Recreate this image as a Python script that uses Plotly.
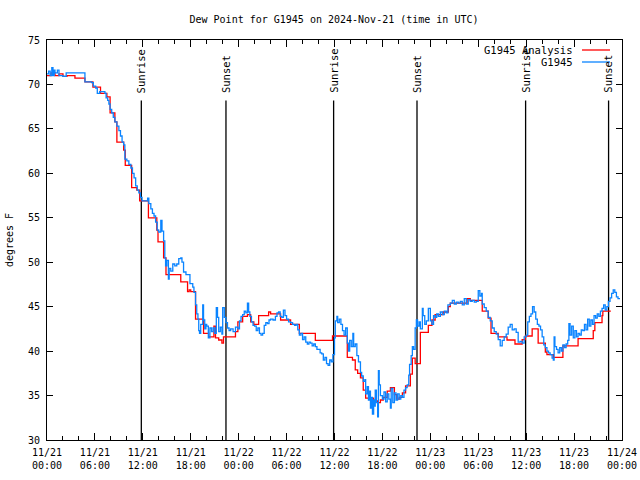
import plotly.graph_objects as go

# ---- data (hours since 2024-11-21 00:00 UTC) ----
blue_hours = [0.0, 0.2, 0.4, 0.6, 0.75, 0.9, 1.0, 1.3, 1.5, 1.6, 2.0, 2.4, 3.0, 4.0, 4.75, 5.5, 5.6, 5.8, 6.1, 6.3,
              6.6, 7.25, 7.4, 7.6, 7.75, 7.9, 8.1, 8.3, 8.5, 8.75, 9.0, 9.2, 9.4, 9.6, 9.75, 10.0, 10.25, 10.5, 10.7, 10.9,
              11.1, 11.3, 11.5, 11.7, 11.9, 12.5, 12.6, 12.75, 13.0, 13.2, 13.4, 13.6, 13.8, 14.0, 14.25, 14.4, 14.6, 14.75, 14.85, 15.0,
              15.2, 15.3, 15.5, 15.75, 16.0, 16.25, 16.5, 16.75, 16.9, 17.1, 17.4, 17.7, 17.9, 18.1, 18.25, 18.4, 18.6, 18.75, 18.9, 19.0,
              19.1, 19.25, 19.5, 19.6, 19.75, 19.9, 20.0, 20.2, 20.4, 20.6, 20.8, 21.0, 21.2, 21.35, 21.5, 21.7, 21.9, 22.0, 22.2, 22.4,
              22.6, 22.8, 23.0, 23.3, 23.6, 23.9, 24.1, 24.3, 24.5, 24.7, 24.9, 25.1, 25.25, 25.4, 25.6, 25.8, 26.0, 26.2, 26.4, 26.6,
              26.8, 27.0, 27.2, 27.4, 27.6, 27.8, 28.0, 28.3, 28.6, 28.8, 29.0, 29.2, 29.4, 29.6, 29.8, 30.0, 30.25, 30.5, 30.75, 31.0,
              31.2, 31.4, 31.6, 31.8, 32.0, 32.2, 32.4, 32.6, 32.8, 33.0, 33.2, 33.4, 33.6, 33.8, 34.0, 34.2, 34.4, 34.6, 34.8, 35.0,
              35.2, 35.4, 35.6, 35.8, 36.0, 36.1, 36.3, 36.4, 36.6, 36.8, 37.0, 37.2, 37.4, 37.6, 37.75, 37.9, 38.1, 38.3, 38.4, 38.6,
              38.8, 39.0, 39.25, 39.4, 39.6, 39.8, 39.9, 40.1, 40.25, 40.4, 40.5, 40.6, 40.75, 40.9, 41.0, 41.1, 41.25, 41.4, 41.5, 41.6,
              41.75, 42.0, 42.2, 42.4, 42.6, 42.8, 43.0, 43.1, 43.3, 43.5, 43.7, 43.9, 44.1, 44.3, 44.5, 44.7, 44.9, 45.1, 45.3, 45.4,
              45.6, 45.75, 45.9, 46.1, 46.25, 46.4, 46.6, 46.75, 47.0, 47.1, 47.3, 47.5, 47.75, 48.0, 48.2, 48.4, 48.6, 48.8, 49.0, 49.25,
              49.5, 49.75, 50.0, 50.2, 50.5, 50.75, 51.0, 51.25, 51.5, 51.75, 52.0, 52.25, 52.5, 52.75, 53.0, 53.25, 53.5, 53.75, 54.0, 54.2,
              54.4, 54.5, 54.75, 55.0, 55.25, 55.5, 55.75, 56.0, 56.25, 56.5, 56.75, 57.0, 57.25, 57.5, 57.75, 58.0, 58.25, 58.5, 58.75, 59.0,
              59.25, 59.5, 59.75, 60.0, 60.2, 60.4, 60.6, 60.8, 61.0, 61.2, 61.4, 61.6, 61.8, 62.0, 62.2, 62.4, 62.6, 62.8, 63.0, 63.25,
              63.4, 63.5, 63.6, 63.8, 64.0, 64.2, 64.4, 64.6, 64.8, 65.0, 65.2, 65.35, 65.5, 65.7, 65.9, 66.1, 66.3, 66.5, 66.7, 66.9,
              67.1, 67.3, 67.5, 67.7, 67.9, 68.1, 68.3, 68.5, 68.7, 68.9, 69.1, 69.3, 69.5, 69.7, 69.9, 70.1, 70.3, 70.5, 70.7, 70.9,
              71.1, 71.3, 71.5, 71.75]
blue_dewpoint = [71.2, 71.5, 71.0, 71.9, 71.0, 71.6, 71.3, 71.6, 71.0, 71.0, 70.9, 71.3, 71.3, 71.3, 70.3, 70.3, 70.2, 69.8, 69.6, 69.0,
                 69.2, 69.0, 68.5, 68.2, 67.8, 67.2, 66.8, 66.3, 65.8, 65.3, 64.8, 64.2, 63.5, 63.2, 61.6, 61.4, 61.0, 60.6, 60.0, 59.5,
                 58.6, 58.1, 57.8, 57.3, 56.9, 56.9, 57.2, 56.6, 56.0, 55.5, 55.2, 54.5, 53.6, 53.4, 54.7, 53.5, 52.4, 50.5, 49.6, 50.2,
                 48.1, 49.3, 49.0, 49.8, 49.6, 49.8, 50.4, 50.5, 50.0, 48.9, 48.6, 48.6, 47.6, 47.6, 47.2, 46.6, 45.2, 44.2, 43.6, 42.3,
                 42.0, 43.0, 45.2, 43.5, 42.5, 43.0, 42.8, 41.5, 42.6, 42.2, 42.6, 42.0, 44.9, 43.8, 42.2, 42.7, 41.9, 44.9, 43.8, 43.2,
                 42.6, 42.3, 42.5, 42.2, 42.7, 42.5, 43.4, 43.9, 44.1, 44.5, 44.3, 45.4, 44.4, 43.9, 43.3, 42.9, 42.8, 42.3, 42.6, 42.0,
                 41.8, 42.0, 42.9, 43.2, 43.1, 43.5, 43.6, 43.5, 43.9, 44.3, 44.4, 43.9, 43.8, 44.6, 44.0, 43.6, 43.3, 43.2, 43.0, 42.9,
                 43.0, 42.4, 41.8, 42.0, 41.3, 41.6, 41.0, 40.8, 41.0, 40.9, 40.6, 40.8, 40.5, 40.2, 40.2, 39.8, 39.7, 39.0, 39.3, 38.6,
                 38.4, 39.0, 38.8, 39.6, 41.5, 43.4, 43.9, 43.2, 43.6, 43.0, 42.3, 41.8, 42.6, 40.9, 40.0, 41.2, 40.5, 42.0, 40.5, 40.8,
                 39.5, 38.8, 37.6, 37.2, 36.6, 36.8, 35.2, 36.0, 34.5, 35.5, 33.6, 34.8, 32.9, 34.5, 33.8, 35.6, 34.2, 32.6, 37.8, 36.2,
                 35.0, 34.6, 35.4, 34.3, 35.2, 34.6, 33.6, 35.8, 34.2, 35.3, 34.5, 35.2, 34.6, 35.0, 34.8, 35.6, 35.9, 36.2, 37.3, 38.5,
                 39.5, 40.5, 40.2, 42.6, 43.5, 42.8, 43.3, 42.5, 44.8, 44.0, 43.0, 43.4, 44.8, 43.4, 43.0, 44.0, 43.8, 44.2, 43.9, 44.4,
                 44.1, 44.5, 44.3, 45.2, 45.4, 45.7, 45.3, 45.5, 45.4, 45.6, 45.2, 45.9, 45.3, 45.8, 45.6, 45.7, 45.5, 45.6, 46.8, 46.2,
                 46.5, 45.3, 44.9, 44.5, 43.8, 43.4, 42.6, 42.2, 41.9, 41.3, 40.6, 41.2, 41.6, 41.9, 42.7, 43.0, 42.4, 42.5, 42.1, 41.0,
                 41.1, 40.9, 41.6, 41.8, 43.3, 43.9, 44.2, 45.0, 44.4, 43.6, 43.0, 42.8, 42.4, 41.6, 40.7, 40.4, 40.0, 39.8, 39.6, 39.2,
                 39.0, 41.6, 40.5, 40.2, 39.8, 40.4, 40.0, 40.7, 40.4, 40.8, 41.2, 43.1, 41.8, 42.8, 41.5, 42.3, 41.6, 42.0, 41.8, 42.4,
                 42.3, 43.0, 42.4, 43.6, 42.8, 43.5, 43.0, 44.0, 43.7, 44.2, 43.9, 44.5, 44.8, 45.2, 44.6, 45.0, 45.6, 46.0, 46.5, 46.9,
                 46.6, 46.1, 45.9, 45.9]

red_hours = [0.0, 0.5, 1.0, 1.5, 2.0, 2.5, 3.5, 4.75, 5.75, 6.7, 7.5, 7.9, 8.5, 8.75, 9.6, 9.8, 10.6, 11.25, 11.6, 12.7,
             13.75, 13.9, 14.6, 14.9, 16.75, 17.6, 17.8, 18.0, 18.6, 19.6, 20.25, 20.9, 21.1, 21.5, 21.9, 22.1, 23.6, 23.9, 24.5, 25.1,
             25.5, 25.9, 26.5, 27.75, 28.0, 29.25, 30.5, 31.6, 33.6, 35.75, 37.6, 38.25, 38.6, 38.9, 39.25, 39.6, 39.9, 40.9, 41.4, 41.75,
             42.1, 42.6, 43.0, 43.5, 43.8, 44.1, 44.5, 44.9, 45.5, 45.75, 46.1, 46.75, 47.75, 48.2, 48.6, 49.6, 50.25, 50.5, 52.6, 53.0,
             54.5, 55.25, 55.6, 56.5, 57.6, 58.6, 59.5, 59.9, 60.75, 61.5, 62.4, 62.6, 63.4, 64.6, 66.5, 68.4, 68.6, 69.5, 69.6, 70.6]
red_dewpoint = [71.0, 71.3, 71.0, 71.2, 70.9, 71.0, 70.7, 70.3, 69.7, 69.0, 68.6, 66.8, 65.8, 63.5, 62.6, 60.9, 58.4, 58.1, 56.9, 55.0,
                53.6, 52.3, 50.5, 48.6, 47.8, 46.7, 46.9, 46.7, 43.6, 42.0, 41.6, 42.8, 41.5, 41.25, 40.9, 41.6, 42.2, 43.3, 43.9, 44.1,
                43.3, 43.0, 44.0, 44.4, 44.2, 43.5, 43.0, 42.0, 41.2, 41.7, 39.3, 39.0, 37.9, 37.5, 37.0, 35.6, 34.7, 34.4, 34.2, 34.5,
                34.8, 35.5, 35.9, 35.1, 34.6, 34.8, 35.3, 36.1, 37.4, 39.2, 38.6, 42.1, 42.9, 43.5, 44.1, 44.4, 45.0, 45.4, 45.9, 45.7,
                44.5, 43.7, 42.0, 41.6, 41.25, 40.8, 41.3, 41.7, 42.5, 40.9, 39.9, 39.6, 39.3, 40.6, 41.4, 42.3, 43.2, 44.0, 44.5, 44.5]

sun_hours = [11.81, 22.41, 35.89, 46.33, 59.93, 70.32]
sun_labels = ["Sunrise", "Sunset", "Sunrise", "Sunset", "Sunrise", "Sunset"]
sun_line_top = 68.2

x_tick_hours = [0, 6, 12, 18, 24, 30, 36, 42, 48, 54, 60, 66, 72]
x_tick_labels = ["11/21<br>00:00", "11/21<br>06:00", "11/21<br>12:00", "11/21<br>18:00",
                 "11/22<br>00:00", "11/22<br>06:00", "11/22<br>12:00", "11/22<br>18:00",
                 "11/23<br>00:00", "11/23<br>06:00", "11/23<br>12:00", "11/23<br>18:00",
                 "11/24<br>00:00"]
y_ticks = [30, 35, 40, 45, 50, 55, 60, 65, 70, 75]

FONT = "DejaVu Sans Mono"
FS = 10
RED = "#ff0000"
BLUE = "#0a84ff"

fig = go.Figure()
for h in sun_hours:
    fig.add_trace(go.Scatter(x=[h, h], y=[sun_line_top, 30], mode="lines",
                             line=dict(color="black", width=1.3), showlegend=False, hoverinfo="skip"))
fig.add_trace(go.Scatter(x=red_hours, y=red_dewpoint, mode="lines", line_shape="hv",
                         line=dict(color=RED, width=1.3), name="G1945 Analysis", showlegend=False))
fig.add_trace(go.Scatter(x=blue_hours, y=blue_dewpoint, mode="lines", line_shape="hv",
                         line=dict(color=BLUE, width=1.3), name="G1945", showlegend=False))

for h, lab in zip(sun_hours, sun_labels):
    fig.add_annotation(x=h, y=68.8, text=lab, textangle=-90, showarrow=False,
                       xanchor="center", yanchor="bottom", font=dict(family=FONT, size=10.5, color="black"))

# legend (gnuplot style: text then sample on the right)
legend_items = [("G1945 Analysis", RED, 50), ("G1945", BLUE, 62)]
for txt, col, ypx in legend_items:
    fig.add_annotation(xref="paper", yref="paper", x=(575 - 47) / 575, y=(440 - ypx) / 400, text=txt,
                       showarrow=False, xanchor="right", yanchor="middle",
                       font=dict(family=FONT, size=FS + 0.5, color="black"))
    fig.add_shape(type="line", xref="paper", yref="paper",
                  x0=(582 - 47) / 575, x1=(610 - 47) / 575, y0=(440 - ypx) / 400, y1=(440 - ypx) / 400,
                  line=dict(color=col, width=1.3))

fig.update_layout(
    width=640, height=480,
    margin=dict(l=47, r=18, t=40, b=40, autoexpand=False),
    paper_bgcolor="white", plot_bgcolor="white",
    font=dict(family=FONT, size=FS, color="black"),
    title=dict(text="Dew Point for G1945 on 2024-Nov-21 (time in UTC)", x=334 / 640, xanchor="center",
               y=1 - 19 / 480, yanchor="middle", yref="container", font=dict(family=FONT, size=FS),
               automargin=False),
    xaxis=dict(range=[0, 72], tickvals=x_tick_hours, ticktext=x_tick_labels, showgrid=False, zeroline=False,
               showline=True, linecolor="black", linewidth=1, mirror="ticks", ticks="inside", ticklen=7,
               tickcolor="black", tickfont=dict(family=FONT, size=FS), automargin=False, ticklabelstandoff=3,
               minor=dict(dtick=2, tick0=0, ticks="inside", ticklen=4, tickcolor="black")),
    yaxis=dict(range=[30, 75], tickvals=y_ticks, showgrid=False, zeroline=False, automargin=False,
               showline=True, linecolor="black", linewidth=1, mirror="ticks", ticks="inside", ticklen=6,
               tickcolor="black", tickfont=dict(family=FONT, size=FS), ticklabelstandoff=4,
               title=dict(text="degrees F", font=dict(family=FONT, size=FS), standoff=12)),
)

fig.write_html("out.html", config={"displayModeBar": False},
               post_script="document.body.style.margin='0';document.body.style.overflow='hidden';")
